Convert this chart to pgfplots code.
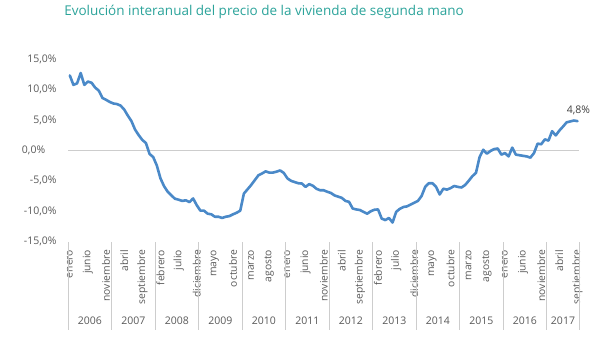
\documentclass[border=0pt]{standalone}
\usepackage{pgfplots}
\pgfplotsset{compat=1.18}
\usepackage{fontspec}
\setmainfont{Open Sans}
\definecolor{titlecol}{RGB}{43,163,154}
\definecolor{linecol}{RGB}{74,137,200}
\definecolor{txtcol}{RGB}{89,89,89}
\definecolor{gridcol}{RGB}{205,205,205}
\tikzset{yrlab/.style={text=txtcol, inner sep=0pt, font=\fontsize{10.5bp}{12bp}\selectfont}}
\begin{document}
\begin{tikzpicture}[x=1bp,y=1bp]
\useasboundingbox (0,0) rectangle (610,354);
\node[anchor=base,text=titlecol,inner sep=0pt,font=\fontsize{13.5bp}{16bp}\selectfont] at (264,338.5) {Evolución interanual del precio de la vivienda de segunda mano};
\begin{axis}[
  at={(68bp,112.3bp)}, anchor=south west,
  scale only axis, width=511.3bp, height=182.7bp,
  xmin=-0.5, xmax=140.5, ymin=-15, ymax=15,
  clip=false,
  axis x line*=bottom, axis y line*=left,
  x axis line style={draw=none}, y axis line style={draw=none},
  major tick length=0pt,
  ytick={-15,-10,-5,5,10,15},
  yticklabels={{-15,0\%},{-10,0\%},{-5,0\%},{5,0\%},{10,0\%},{15,0\%}},
  yticklabel style={inner sep=0pt, anchor=east, xshift=-11.3bp, text=txtcol, font=\fontsize{10.5bp}{12bp}\selectfont},
  xtick={0,5,...,140},
  xticklabels={enero,junio,noviembre,abril,septiembre,febrero,julio,diciembre,mayo,octubre,marzo,agosto,enero,junio,noviembre,abril,septiembre,febrero,julio,diciembre,mayo,octubre,marzo,agosto,enero,junio,noviembre,abril,septiembre},
  xticklabel style={rotate=90, anchor=east, inner sep=0pt, text=txtcol, font=\fontsize{10.3bp}{12bp}\selectfont},
  xticklabel shift=8bp,
  extra y ticks={0}, extra y tick labels={0{,}0\%},
  extra y tick style={grid=major, major grid style={draw=gridcol, line width=1bp}, yticklabel style={inner sep=0pt, anchor=east, xshift=-11.3bp, text=txtcol, font=\fontsize{10.5bp}{12bp}\selectfont}},
  extra x ticks={-0.5,11.5,23.5,35.5,47.5,59.5,71.5,83.5,95.5,107.5,119.5,131.5,140.5},
  extra x tick labels={},
  extra x tick style={major tick length=88bp, major tick style={color=gridcol, line width=1bp}, xtick pos=bottom, xtick align=outside},
]
\node[yrlab] at ([yshift=-78.8bp]axis cs:5.5,-15) {2006};
\node[yrlab] at ([yshift=-78.8bp]axis cs:17.5,-15) {2007};
\node[yrlab] at ([yshift=-78.8bp]axis cs:29.5,-15) {2008};
\node[yrlab] at ([yshift=-78.8bp]axis cs:41.5,-15) {2009};
\node[yrlab] at ([yshift=-78.8bp]axis cs:53.5,-15) {2010};
\node[yrlab] at ([yshift=-78.8bp]axis cs:65.5,-15) {2011};
\node[yrlab] at ([yshift=-78.8bp]axis cs:77.5,-15) {2012};
\node[yrlab] at ([yshift=-78.8bp]axis cs:89.5,-15) {2013};
\node[yrlab] at ([yshift=-78.8bp]axis cs:101.5,-15) {2014};
\node[yrlab] at ([yshift=-78.8bp]axis cs:113.5,-15) {2015};
\node[yrlab] at ([yshift=-78.8bp]axis cs:125.5,-15) {2016};
\node[yrlab] at ([yshift=-78.8bp]axis cs:136,-15) {2017};
\addplot[color=linecol, line width=2.6bp, line join=round, line cap=round, mark=none] coordinates {
(0,12.3) (1,10.75) (2,11.0) (3,12.7) (4,10.75) (5,11.3) (6,11.1) (7,10.3) (8,9.8) (9,8.6)
(10,8.3) (11,7.95) (12,7.7) (13,7.6) (14,7.35) (15,6.7) (16,5.7) (17,4.8) (18,3.4) (19,2.5)
(20,1.7) (21,1.2) (22,-0.6) (23,-1.1) (24,-2.5) (25,-4.6) (26,-5.9) (27,-6.8) (28,-7.4) (29,-7.95)
(30,-8.1) (31,-8.3) (32,-8.2) (33,-8.5) (34,-7.9) (35,-9.0) (36,-9.9) (37,-9.9) (38,-10.4) (39,-10.5)
(40,-10.9) (41,-10.9) (42,-11.1) (43,-10.9) (44,-10.8) (45,-10.5) (46,-10.25) (47,-9.9) (48,-7.1) (49,-6.4)
(50,-5.7) (51,-4.9) (52,-4.1) (53,-3.8) (54,-3.45) (55,-3.65) (56,-3.65) (57,-3.5) (58,-3.3) (59,-3.7)
(60,-4.6) (61,-5.0) (62,-5.2) (63,-5.4) (64,-5.45) (65,-6.0) (66,-5.55) (67,-5.8) (68,-6.3) (69,-6.55)
(70,-6.55) (71,-6.8) (72,-7.0) (73,-7.4) (74,-7.6) (75,-7.8) (76,-8.3) (77,-8.45) (78,-9.55) (79,-9.7)
(80,-9.8) (81,-10.1) (82,-10.4) (83,-10.0) (84,-9.75) (85,-9.7) (86,-11.2) (87,-11.45) (88,-11.1) (89,-11.85)
(90,-10.1) (91,-9.6) (92,-9.3) (93,-9.2) (94,-8.9) (95,-8.6) (96,-8.3) (97,-7.5) (98,-6.0) (99,-5.4)
(100,-5.4) (101,-6.0) (102,-7.25) (103,-6.3) (104,-6.45) (105,-6.2) (106,-5.85) (107,-6.0) (108,-6.1) (109,-5.7)
(110,-5.0) (111,-4.25) (112,-3.7) (113,-1.1) (114,0.1) (115,-0.55) (116,-0.1) (117,0.2) (118,0.3) (119,-0.7)
(120,-0.45) (121,-1.0) (122,0.45) (123,-0.7) (124,-0.8) (125,-0.9) (126,-1.0) (127,-1.2) (128,-0.45) (129,1.1)
(130,1.0) (131,1.8) (132,1.6) (133,3.15) (134,2.45) (135,3.25) (136,3.9) (137,4.6) (138,4.75) (139,4.9)
(140,4.8)
};
\node[anchor=base, inner sep=0pt, text=black!75, font=\fontsize{10.5bp}{12bp}\selectfont] at ([xshift=1bp,yshift=8bp]axis cs:140,4.8) {4,8\%};
\end{axis}
\end{tikzpicture}
\end{document}
